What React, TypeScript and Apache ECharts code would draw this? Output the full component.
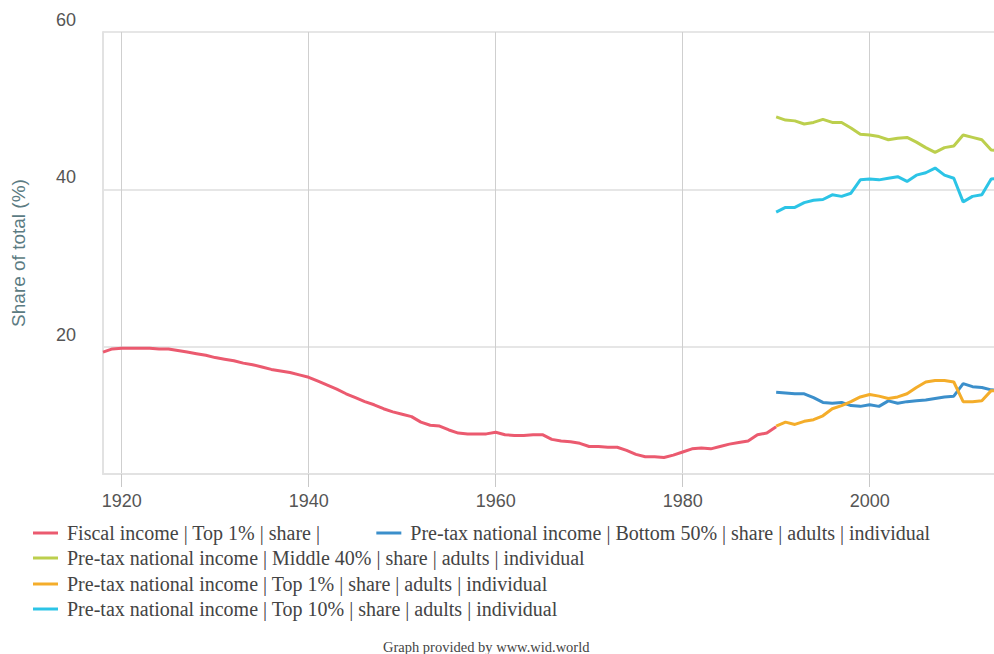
import React, { useEffect, useRef } from "react";
import * as echarts from "echarts";

const SERIES_NAMES = [
  "Fiscal income | Top 1% | share |",
  "Pre-tax national income | Bottom 50% | share | adults | individual",
  "Pre-tax national income | Middle 40% | share | adults | individual",
  "Pre-tax national income | Top 1% | share | adults | individual",
  "Pre-tax national income | Top 10% | share | adults | individual",
];

const COLORS = ["#eb5a6f", "#3b8fcb", "#bccf4d", "#f4ad2a", "#2cc4e6"];

const X_TICKS = [1920, 1940, 1960, 1980, 2000];
const Y_TICKS = [20, 40, 60];

const fiscalYears = [
  1918, 1919, 1920, 1921, 1922, 1923, 1924, 1925, 1926, 1927, 1928, 1929,
  1930, 1931, 1932, 1933, 1934, 1935, 1936, 1937, 1938, 1939, 1940, 1941,
  1942, 1943, 1944, 1945, 1946, 1947, 1948, 1949, 1950, 1951, 1952, 1953,
  1954, 1955, 1956, 1957, 1958, 1959, 1960, 1961, 1962, 1963, 1964, 1965,
  1966, 1967, 1968, 1969, 1970, 1971, 1972, 1973, 1974, 1975, 1976, 1977,
  1978, 1979, 1980, 1981, 1982, 1983, 1984, 1985, 1986, 1987, 1988, 1989,
  1990,
];
const fiscalTop1 = [
  19.3, 19.7, 19.8, 19.8, 19.8, 19.8, 19.7, 19.7, 19.5, 19.3, 19.1, 18.9,
  18.6, 18.4, 18.2, 17.9, 17.7, 17.4, 17.1, 16.9, 16.7, 16.4, 16.1, 15.6,
  15.1, 14.6, 14.0, 13.5, 13.0, 12.6, 12.1, 11.7, 11.4, 11.1, 10.4, 10.0,
  9.9, 9.4, 9.0, 8.9, 8.9, 8.9, 9.1, 8.8, 8.7, 8.7, 8.8, 8.8,
  8.2, 8.0, 7.9, 7.7, 7.3, 7.3, 7.2, 7.2, 6.8, 6.3, 6.0, 6.0,
  5.9, 6.2, 6.6, 7.0, 7.1, 7.0, 7.3, 7.6, 7.8, 8.0, 8.8, 9.0,
  9.8,
];

const pretaxYears = [
  1990, 1991, 1992, 1993, 1994, 1995, 1996, 1997, 1998, 1999, 2000, 2001,
  2002, 2003, 2004, 2005, 2006, 2007, 2008, 2009, 2010, 2011, 2012, 2013,
  2014,
];
const bottom50 = [
  14.2, 14.1, 14.0, 14.0, 13.5, 12.9, 12.8, 12.9, 12.5, 12.4, 12.6, 12.4,
  13.1, 12.8, 13.0, 13.1, 13.2, 13.4, 13.6, 13.7, 15.3, 14.9, 14.8, 14.5,
  14.4,
];
const middle40 = [
  49.2, 48.8, 48.7, 48.3, 48.5, 48.9, 48.5, 48.5, 47.8, 47.0, 46.9, 46.7,
  46.3, 46.5, 46.6, 46.0, 45.3, 44.7, 45.3, 45.5, 46.9, 46.6, 46.3, 45.0,
  44.9,
];
const pretaxTop1 = [
  9.9, 10.4, 10.1, 10.5, 10.7, 11.2, 12.1, 12.5, 13.0, 13.6, 13.9, 13.7,
  13.4, 13.6, 14.0, 14.8, 15.5, 15.7, 15.7, 15.5, 13.0, 13.0, 13.1, 14.4,
  14.3,
];
const top10 = [
  37.1, 37.7, 37.7, 38.3, 38.6, 38.7, 39.3, 39.1, 39.5, 41.2, 41.3, 41.2,
  41.4, 41.6, 41.0, 41.8, 42.1, 42.7, 41.8, 41.4, 38.4, 39.1, 39.3, 41.3,
  41.4,
];

const zip = (xs: number[], ys: number[]) => xs.map((x, i) => [x, ys[i]]);

export default function App() {
  const ref = useRef<HTMLDivElement>(null);

  useEffect(() => {
    if (!ref.current) return;
    const chart = echarts.init(ref.current, undefined, { renderer: "svg" });

    const seriesData = [
      zip(fiscalYears, fiscalTop1),
      zip(pretaxYears, bottom50),
      zip(pretaxYears, middle40),
      zip(pretaxYears, pretaxTop1),
      zip(pretaxYears, top10),
    ];

    const legendBase = {
      left: 33,
      icon: "rect",
      itemWidth: 25,
      itemHeight: 3,
      itemGap: 56,
      padding: 0,
      textStyle: {
        fontFamily: "Liberation Serif",
        fontSize: 20,
        color: "#444",
        padding: [0, 0, 0, 4],
      },
    };

    chart.setOption({
      animation: false,
      backgroundColor: "#ffffff",
      color: COLORS,
      grid: { left: 103, right: 0, top: 32, bottom: 180 },
      legend: [
        { ...legendBase, top: 523, data: [SERIES_NAMES[0], SERIES_NAMES[1]] },
        { ...legendBase, top: 548, data: [SERIES_NAMES[2]] },
        { ...legendBase, top: 574, data: [SERIES_NAMES[3]] },
        { ...legendBase, top: 599, data: [SERIES_NAMES[4]] },
      ],
      xAxis: {
        type: "value",
        min: 1918,
        max: 2013.3,
        axisLine: { show: true, lineStyle: { color: "#e2e2e2", width: 2 } },
        axisTick: {
          show: true,
          customValues: X_TICKS,
          length: 13,
          lineStyle: { color: "#c8c8c8", width: 1 },
        },
        axisLabel: {
          customValues: X_TICKS,
          formatter: (v: number) => String(v),
          color: "#555",
          fontFamily: "Liberation Sans",
          fontSize: 18,
          margin: 18,
        },
        splitLine: { show: true, lineStyle: { color: "#cfcfcf", width: 1 } },
      },
      yAxis: {
        type: "value",
        min: 3.8,
        max: 60,
        name: "Share of total (%)",
        nameLocation: "middle",
        nameGap: 75,
        nameRotate: 90,
        nameTextStyle: {
          color: "#5b7b82",
          fontFamily: "Liberation Sans",
          fontSize: 19,
        },
        axisLine: { show: true, lineStyle: { color: "#e2e2e2", width: 2 } },
        axisTick: { show: false, customValues: Y_TICKS },
        axisLabel: {
          customValues: Y_TICKS,
          formatter: (v: number) => String(v),
          color: "#555",
          fontFamily: "Liberation Sans",
          fontSize: 18,
          margin: 27,
          verticalAlign: "bottom",
          padding: [0, 0, 3, 0],
        },
        splitLine: { show: true, lineStyle: { color: "#e6e6e6", width: 2 } },
      },
      graphic: [
        {
          type: "text",
          left: 383,
          top: 639,
          style: {
            text: "Graph provided by www.wid.world",
            fontFamily: "Liberation Serif",
            fontSize: 14.5,
            fill: "#444",
          },
        },
      ],
      series: SERIES_NAMES.map((name, i) => ({
        name,
        type: "line",
        data: seriesData[i],
        showSymbol: false,
        symbol: "none",
        clip: true,
        lineStyle: { width: 3, color: COLORS[i] },
        itemStyle: { color: COLORS[i] },
      })),
    });

    return () => chart.dispose();
  }, []);

  return (
    <div
      ref={ref}
      style={{
        position: "fixed",
        left: 0,
        top: 0,
        width: 994,
        height: 654,
        background: "#fff",
      }}
    />
  );
}
